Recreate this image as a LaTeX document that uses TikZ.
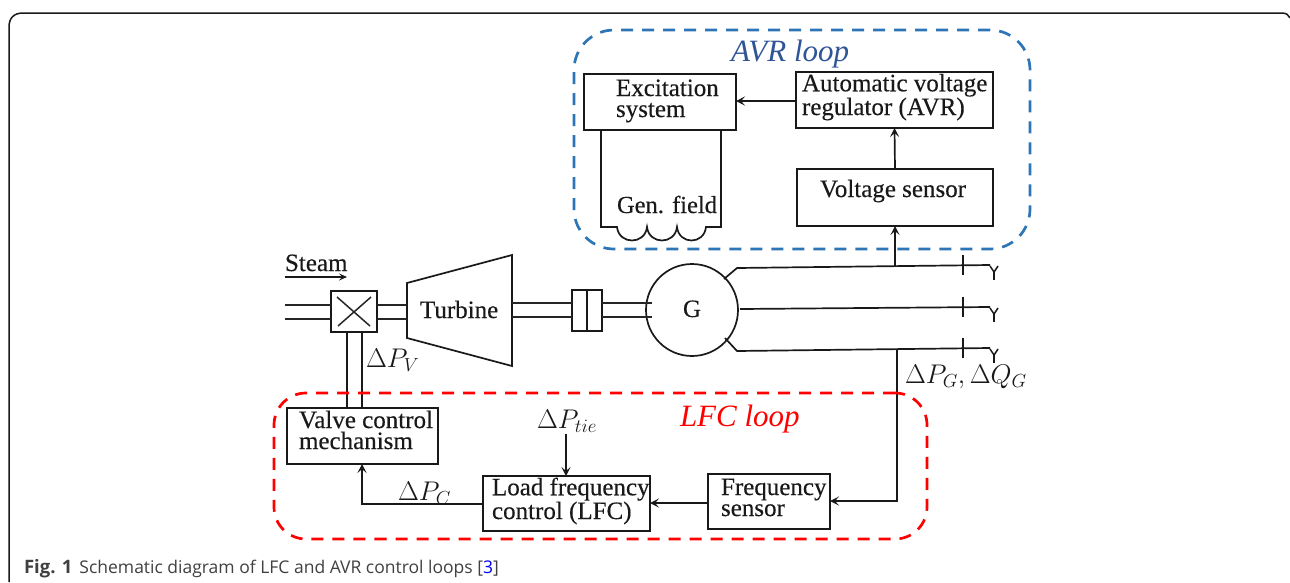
\RequirePackage{fix-cm}
\documentclass[tikz,border=0pt]{standalone}
\usepackage{fontspec}
\setmainfont{Liberation Serif}[FakeBold=0.3]
\newfontfamily\loopfont{Liberation Serif}[Ligatures=TeX]
\newfontfamily\capfont{Open Sans}
\usetikzlibrary{arrows.meta}
\definecolor{loopblue}{HTML}{2E75B6}
\definecolor{loopblueText}{HTML}{2F5597}
\definecolor{capgray}{HTML}{404040}
\newcommand{\fs}[1]{\fontsize{#1}{21}\selectfont}
\tikzset{
  wire/.style={line width=1.7pt,black!90},
  pipe/.style={line width=1.5pt,black!85},
  arr/.style={wire,-{Stealth[length=9pt,width=9pt,inset=4pt]}},
  blockbox/.style={draw=black!90,line width=1.7pt,inner sep=0pt,outer sep=0pt},
  txt/.style={inner sep=0pt,outer sep=0pt,font=\fs{25},align=left,text=black!90},
  mth/.style={inner sep=0pt,outer sep=0pt,font=\fs{27},text=black!90},
  looptext/.style={inner sep=0pt,outer sep=0pt,font=\loopfont\fs{31}\itshape},
  loopbox/.style={line width=2.7pt,inner sep=0pt,outer sep=0pt,dash pattern=on 12pt off 9pt},
}
\begin{document}
\begin{tikzpicture}[x=1pt,y=-1pt]
\useasboundingbox (0,0) rectangle (1290,582);
\fill[white] (0,0) rectangle (1290,582);
% outer frame
\draw[line width=1.5pt,black!90] (9,582) -- (9,27) .. controls (9,18) and (14,13) .. (23,13) -- (1282,13) .. controls (1286,13) and (1289,15) .. (1290,18);

% boxes
\node[blockbox,minimum width=46,minimum height=41] (valve) at (354,311.5) {};
\node[blockbox,minimum width=30,minimum height=41] (coupling) at (587,310.5) {};
\node[blockbox,circle,minimum size=92] (gen) at (692,310) {};
\node[blockbox,minimum width=152,minimum height=56] (exc) at (660,102) {};
\node[blockbox,minimum width=197,minimum height=56] (avr) at (894.5,100) {};
\node[blockbox,minimum width=196,minimum height=57] (vs) at (895,197.5) {};
\node[blockbox,minimum width=151,minimum height=56] (vcm) at (362.5,436) {};
\node[blockbox,minimum width=167,minimum height=55] (lfc) at (566.5,503.5) {};
\node[blockbox,minimum width=122,minimum height=55] (fs) at (769,501.5) {};

% box texts
\node[txt,anchor=base west] (exctext) at (616,117) {Excitation\\system};
\node[txt,anchor=base west] (avrtext) at (802,115) {Automatic voltage\\regulator (AVR)};
\node[txt,anchor=base west] (vstext) at (820,197) {Voltage sensor};
\node[txt,anchor=base west] (vcmtext) at (299,449) {Valve control\\mechanism};
\node[txt,anchor=base west] (lfctext) at (492,519) {Load frequency\\control (LFC)};
\node[txt,anchor=base west] (fstext) at (721,516) {Frequency\\sensor};
\node[txt,anchor=base west,font=\fs{24.5}] (gftext) at (617,213) {Gen. field};
\node[txt,anchor=base west] (steam) at (285,271) {Steam};
\node[txt,anchor=base west] (turbinetext) at (420,318) {Turbine};
\node[txt,anchor=base] (gtext) at (692,317) {G};

% math labels
\node[mth,anchor=base west] (dpv) at (366,367) {$\Delta P_V$};
\node[mth,anchor=base west] (dptie) at (537,428) {$\Delta P_{tie}$};
\node[mth,anchor=base west] (dpc) at (398,500) {$\Delta P_C$};
\node[mth,anchor=base west] (dpg) at (905,383) {$\Delta P_G,\Delta Q_G$};

% steam arrow
\coordinate (steamA) at (285,277);
\coordinate (steamB) at (347,277);
\draw[line width=1.4pt,black!90,-{Stealth[length=8pt,width=7pt,inset=3.5pt]}] (steamA) -- (steamB);

% valve cross
\draw[pipe] (valve.north west) ++(6,6) -- ++(33,29);
\draw[pipe] (valve.north east) ++(-6,6) -- ++(-33,29);

% turbine
\coordinate (t1) at (407,283);
\coordinate (t2) at (512,255);
\coordinate (t3) at (512,366);
\coordinate (t4) at (407,338);
\draw[blockbox] (t1) -- (t2) -- (t3) -- (t4) -- cycle;

% pipes
\coordinate (p1) at (285,305);
\coordinate (p2) at (285,319);
\draw[pipe] (p1) -- (p1 -| valve.west);
\draw[pipe] (p2) -- (p2 -| valve.west);
\draw[pipe] (p1 -| valve.east) -- (p1 -| t1);
\draw[pipe] (p2 -| valve.east) -- (p2 -| t1);
\coordinate (p3) at (512,303);
\coordinate (p4) at (512,317);
\draw[pipe] (p3) -- (p3 -| coupling.west);
\draw[pipe] (p4) -- (p4 -| coupling.west);
\coordinate (gp3) at (652,303);
\coordinate (gp4) at (652,317);
\draw[pipe] (p3 -| coupling.east) -- (gp3);
\draw[pipe] (p4 -| coupling.east) -- (gp4);
\draw[blockbox] (coupling.north) -- (coupling.south);

% valve stems
\coordinate (s1) at (347,332);
\coordinate (s2) at (362,332);
\draw[wire] (s1) -- (s1 |- vcm.north);
\draw[wire] (s2) -- (s2 |- vcm.north);

% three-phase lines
\coordinate (a0) at (724,279);
\coordinate (a1) at (737,268);
\coordinate (a2) at (990,265);
\coordinate (b0) at (740,309);
\coordinate (b2) at (990,307);
\coordinate (c0) at (725,338);
\coordinate (c1) at (737,351);
\coordinate (c2) at (990,348);
\draw[wire] (a0) -- (a1) -- (a2);
\draw[wire] (b0) -- (b2);
\draw[wire] (c0) -- (c1) -- (c2);
\foreach \top/\bot in {255/275,297/317,338/358}{
  \draw[line width=2.2pt,black!90] (963,\top) -- (963,\bot);
}
\foreach \p in {a2,b2,c2}{
  \draw[line width=1.5pt,black!90] (\p) ++(0,1) -- ++(4,6) -- ++(4,-6);
  \draw[line width=1.8pt,black!90] (\p) ++(4,7) -- ++(0,8);
}

% generator field
\coordinate (f1) at (601,227);
\coordinate (f2) at (721,227);
\coordinate (f3) at (617,227);
\coordinate (f4) at (647,227);
\coordinate (f5) at (677,227);
\coordinate (f6) at (706,227);
\draw[wire] (f1 |- exc.south) -- (f1) -- (f3)
  .. controls (619,245) and (645,245) .. (f4)
  .. controls (649,245) and (675,245) .. (f5)
  .. controls (679,245) and (704,245) .. (f6)
  -- (f2) -- (f2 |- exc.south);

% connectors
\coordinate (j1) at (895,266);
\draw[arr] (j1) -- (j1 |- vs.south);
\draw[arr] (vs.north) -- (avr.south);
\coordinate (m1) at (796,101);
\draw[arr] (m1) -- (m1 -| exc.east);
\coordinate (j2) at (897,349);
\coordinate (j3) at (897,501);
\draw[arr] (j2) -- (j3) -- (j3 -| fs.east);
\coordinate (m2) at (708,503);
\draw[arr] (m2) -- (m2 -| lfc.east);
\coordinate (m3) at (483,504);
\coordinate (m4) at (362,504);
\draw[arr] (m3) -- (m4) -- (m4 |- vcm.south);
\coordinate (m5) at (566,434);
\draw[arr] (m5) -- (m5 |- lfc.north);

% loops
\node[loopbox,draw=red,rounded corners=32pt,minimum width=653,minimum height=146] (lfcloop) at (600.5,466) {};
\node[looptext,text=red,anchor=base west] (lfclabel) at (680,426) {LFC loop};
\node[loopbox,draw=loopblue,rounded corners=40pt,minimum width=456,minimum height=219] (avrloop) at (802,139.5) {};
\node[looptext,text=loopblueText,anchor=base west] (avrlabel) at (731,61) {AVR loop};

% caption
\node[inner sep=0pt,outer sep=0pt,anchor=base west,text=capgray,font=\capfont\fontsize{17.5}{22}\selectfont] (caption) at (24,573)
  {{\fontsize{18.5}{22}\selectfont\textbf{Fig. 1}}\hspace{7pt}Schematic diagram of LFC and AVR control loops [\textcolor{blue}{3}]};
\end{tikzpicture}
\end{document}
